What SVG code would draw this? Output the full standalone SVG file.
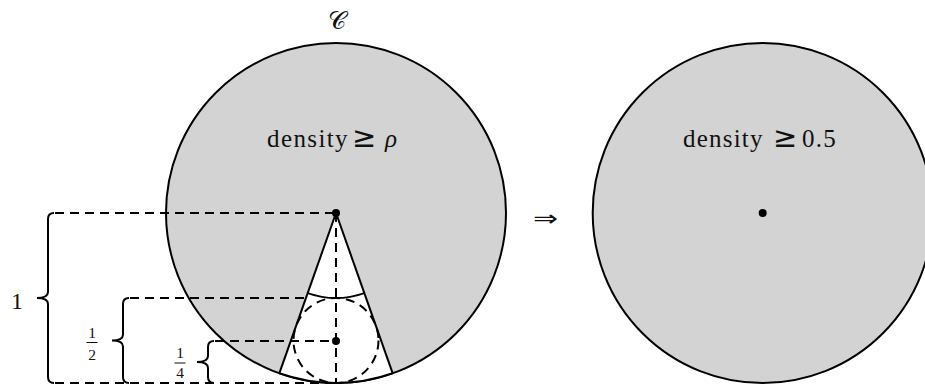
<svg xmlns="http://www.w3.org/2000/svg" width="925" height="385" viewBox="0 0 925 385">
<style>
.big{fill:#d3d3d3;stroke:#000;stroke-width:2}
.ln{fill:none;stroke:#000;stroke-width:2}
.dash{fill:none;stroke:#000;stroke-width:2;stroke-dasharray:9 6}
.t{font-family:"Liberation Serif","DejaVu Serif",serif;fill:#111}
.sym{font-family:"DejaVu Sans",sans-serif;font-size:29px}
.dot{fill:#000}
</style>
<rect width="925" height="385" fill="#fff"/>
<g id="circle-C">
  <circle class="big" cx="336" cy="213" r="170"/>
  <path d="M336,213 L279.3,373.3 A170,170 0 0 0 392.7,373.3 Z" fill="#fff" stroke="none"/>
  <line class="ln" x1="336" y1="213" x2="279.3" y2="373.3"/>
  <line class="ln" x1="336" y1="213" x2="392.7" y2="373.3"/>
  <path class="ln" d="M279.3,373.3 A170,170 0 0 0 392.7,373.3"/>
  <path class="ln" d="M307.7,293.1 A85,85 0 0 0 364.3,293.1"/>
  <circle class="dash" cx="336" cy="340.5" r="42.5"/>
  <text class="t" x="337" y="29" text-anchor="middle" font-size="25">𝒞</text>
  <text class="t" y="147" font-size="25"><tspan x="267" letter-spacing="1.4">density</tspan><tspan class="sym" x="352">≥</tspan><tspan x="385" font-style="italic">ρ</tspan></text>
</g>
<g id="connectors">
  <line class="dash" x1="55" y1="213" x2="336" y2="213"/>
  <line class="dash" x1="130" y1="298" x2="306" y2="298"/>
  <line class="dash" x1="215" y1="341" x2="336" y2="341"/>
  <line class="dash" x1="55" y1="383" x2="336" y2="383"/>
  <line class="dash" x1="336" y1="213" x2="336" y2="383"/>
</g>
<g id="brace-1">
  <path class="ln" d="M54,213 Q48,213 48,219 L48,292 Q48,298 37,298 Q48,298 48,304 L48,377 Q48,383 54,383"/>
  <text class="t" x="17" y="309" text-anchor="middle" font-size="24">1</text>
</g>
<g id="brace-half">
  <path class="ln" d="M129,298 Q123,298 123,304 L123,334.5 Q123,340.5 112,340.5 Q123,340.5 123,346.5 L123,377 Q123,383 129,383"/>
  <text class="t" x="92" y="338" text-anchor="middle" font-size="15.5">1</text>
  <line x1="86.5" y1="342.5" x2="97.5" y2="342.5" stroke="#111" stroke-width="1"/>
  <text class="t" x="92" y="359.5" text-anchor="middle" font-size="15.5">2</text>
</g>
<g id="brace-quarter">
  <path class="ln" d="M214,341 Q208,341 208,347 L208,356 Q208,362 197,362 Q208,362 208,368 L208,377 Q208,383 214,383"/>
  <text class="t" x="180" y="358" text-anchor="middle" font-size="15.5">1</text>
  <line x1="174.5" y1="363" x2="185.5" y2="363" stroke="#111" stroke-width="1"/>
  <text class="t" x="180" y="377.5" text-anchor="middle" font-size="15.5">4</text>
</g>
<g id="dots">
  <circle class="dot" cx="336" cy="213" r="4"/>
  <circle class="dot" cx="336" cy="341" r="4"/>
</g>
<g id="arrow">
  <text x="533" y="226" font-size="22" font-family="DejaVu Sans, sans-serif" fill="#111" textLength="25" lengthAdjust="spacingAndGlyphs">⇒</text>
</g>
<g id="circle-right">
  <circle class="big" cx="762.7" cy="213" r="170"/>
  <circle class="dot" cx="762.7" cy="213" r="4"/>
  <text class="t" y="147" font-size="25"><tspan x="683" letter-spacing="1.2">density</tspan><tspan class="sym" x="773">≥</tspan><tspan x="802" letter-spacing="1.2">0.5</tspan></text>
</g>
</svg>
